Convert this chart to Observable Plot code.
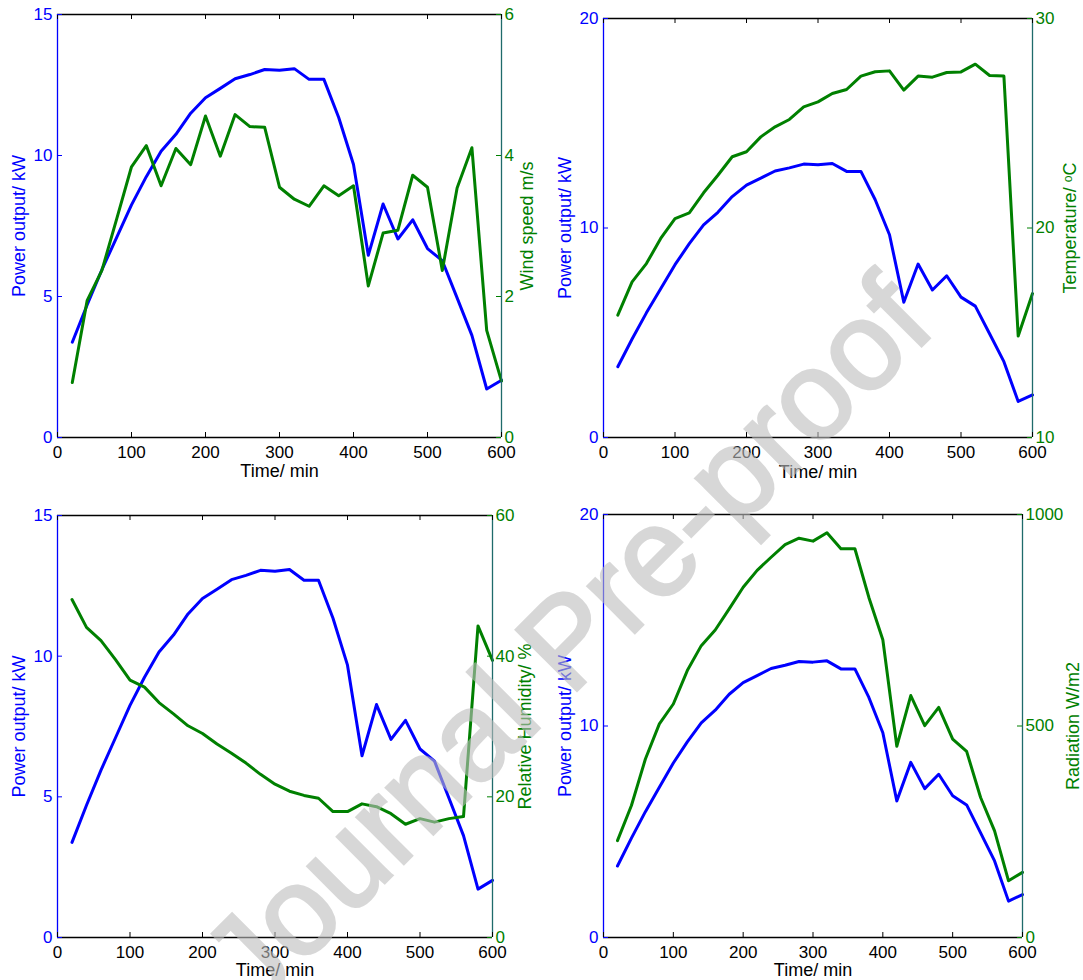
<!DOCTYPE html>
<html><head><meta charset="utf-8">
<script src="https://cdn.jsdelivr.net/npm/d3@7"></script>
<script src="https://cdn.jsdelivr.net/npm/@observablehq/plot@0.6"></script>
<style>
body{margin:0;background:#fff;}
#wrap{position:relative;width:1083px;height:980px;overflow:hidden;font-family:"Liberation Sans",Arial,sans-serif;}
.panel{position:absolute;}
#wm{position:absolute;left:566px;top:640px;transform:translate(-50%,-50%) rotate(-45deg);font-size:125px;line-height:1;color:#bebebe;-webkit-text-stroke:3px #bebebe;opacity:0.6;white-space:nowrap;pointer-events:none;font-family:"Liberation Sans",Arial,sans-serif;z-index:10;}
</style></head>
<body><div id="wrap"><div id="wm">Journal Pre-proof</div></div>
<script>
const time = [20,40,60,80,100,120,140,160,180,200,220,240,260,280,300,320,340,360,380,400,420,440,460,480,500,520,540,560,580,600];
const power = [3.38,4.7,5.95,7.1,8.25,9.25,10.15,10.75,11.5,12.05,12.38,12.72,12.87,13.05,13.02,13.08,12.7,12.7,11.35,9.68,6.46,8.28,7.04,7.72,6.7,6.27,4.95,3.62,1.72,2.03];
const windSpeed = [0.78,1.94,2.37,3.1,3.84,4.14,3.57,4.1,3.87,4.56,3.99,4.58,4.41,4.4,3.55,3.38,3.28,3.57,3.43,3.57,2.15,2.9,2.94,3.72,3.55,2.37,3.54,4.11,1.52,0.8];
const temperature = [15.84,17.43,18.3,19.5,20.45,20.72,21.68,22.52,23.4,23.64,24.35,24.83,25.18,25.78,26.02,26.42,26.61,27.25,27.46,27.5,26.58,27.25,27.2,27.42,27.45,27.82,27.28,27.25,14.84,16.87];
const humidity = [48.05,44.1,42.2,39.5,36.6,35.6,33.4,31.8,30.1,29.0,27.5,26.2,24.8,23.2,21.8,20.8,20.2,19.8,17.9,17.9,19.0,18.6,17.6,16.1,16.9,16.4,16.9,17.2,44.3,39.4];
const radiation = [229,312,422,505,552,631,690,727,777,828,868,899,929,944,937,957,919,919,804,704,452,572,501,544,469,440,331,252,134,154];
const xTicks = [0,100,200,300,400,500,600];
const powerTicks15 = [0,5,10,15];
const powerTicks20 = [0,10,20];
const windTicks = [0,2,4,6];
const tempTicks = [10,20,30];
const humTicks = [0,20,40,60];
const radTicks = [0,500,1000];

const blue = "#0000ff", green = "#008000", teal = "#1f6b6b";
const font = "'Liberation Sans', Arial, sans-serif";

function panel(c) {
  const rows = time.map((t, i) => ({t, p: power[i], s: c.sec[i]}));
  const W = c.width - c.mL - c.mR, H = c.height - c.mT - c.mB, tk = 5;
  const lab = {textAnchor: "middle", lineAnchor: "middle", fontSize: 18};
  const chart = Plot.plot({
    width: c.width, height: c.height,
    marginLeft: c.mL, marginRight: c.mR, marginTop: c.mT, marginBottom: c.mB,
    style: {fontFamily: font, fontSize: "17px", background: "transparent", overflow: "visible"},
    x: {domain: [0, 600]},
    y: {domain: [0, c.yMax]},
    marks: [
      Plot.line(rows, {x: "t", y: "p", stroke: blue, strokeWidth: 3}),
      Plot.line(rows, {x: "t", y: d => c.toY(d.s), stroke: green, strokeWidth: 3}),
      Plot.ruleY([0], {stroke: "black", strokeWidth: 1.3}),
      Plot.ruleY([c.yMax], {stroke: "black", strokeWidth: 1.3}),
      Plot.ruleX([0], {stroke: blue, strokeWidth: 1.3}),
      Plot.ruleX([600], {stroke: teal, strokeWidth: 1.3}),
      Plot.tickX(xTicks, {x: d => d, insetTop: H - tk, stroke: "black"}),
      Plot.tickX(xTicks, {x: d => d, insetBottom: H - tk, stroke: "black"}),
      Plot.tickY(c.yTicks, {y: d => d, insetRight: W - tk, stroke: blue}),
      Plot.tickY(c.secTicks, {y: d => c.toY(d), insetLeft: W - tk, stroke: green}),
      Plot.axisX(xTicks, {tickSize: 0, tickPadding: 8, label: null, fill: "black"}),
      Plot.axisY(c.yTicks, {anchor: "left", tickSize: 0, tickPadding: 5, label: null, fill: blue}),
      Plot.axisY(c.secTicks.map(c.toY), {anchor: "right", tickSize: 0, tickPadding: 3, label: null, fill: green, tickFormat: d => String(Math.round(c.fromY(d)))}),
      Plot.text(["Power output/ kW"], {text: d => d, frameAnchor: "left", rotate: -90, dx: -38, fill: blue, ...lab}),
      Plot.text([c.secLabel], {text: d => d, frameAnchor: "right", rotate: -90, dx: c.secDx, fill: green, ...lab}),
      Plot.text(["Time/ min"], {text: d => d, frameAnchor: "bottom", dy: c.xDy, fill: "black", ...lab})
    ]
  });
  const div = document.createElement("div");
  div.className = "panel";
  div.style.left = c.left + "px";
  div.style.top = c.top + "px";
  div.appendChild(chart);
  document.getElementById("wrap").appendChild(div);
}

panel({left: 0, top: 0, width: 540, height: 490, mL: 57, mR: 39, mT: 14, mB: 53,
  yMax: 15, yTicks: powerTicks15, sec: windSpeed, secTicks: windTicks,
  toY: v => v * 2.5, fromY: v => v / 2.5, secLabel: "Wind speed m/s", secDx: 26, xDy: 34});
panel({left: 540, top: 0, width: 543, height: 490, mL: 63, mR: 51, mT: 18, mB: 53,
  yMax: 20, yTicks: powerTicks20, sec: temperature, secTicks: tempTicks,
  toY: v => v - 10, fromY: v => v + 10, secLabel: "Temperature/ \u1D52C", secDx: 38, xDy: 35});
panel({left: 0, top: 490, width: 540, height: 490, mL: 57, mR: 48, mT: 25, mB: 43,
  yMax: 15, yTicks: powerTicks15, sec: humidity, secTicks: humTicks,
  toY: v => v / 4, fromY: v => v * 4, secLabel: "Relative Humidity/ %", secDx: 33, xDy: 33});
panel({left: 540, top: 490, width: 543, height: 490, mL: 63, mR: 61, mT: 24, mB: 43,
  yMax: 20, yTicks: powerTicks20, sec: radiation, secTicks: radTicks,
  toY: v => v / 50, fromY: v => v * 50, secLabel: "Radiation W/m2", secDx: 51, xDy: 33});
</script>
</body></html>
